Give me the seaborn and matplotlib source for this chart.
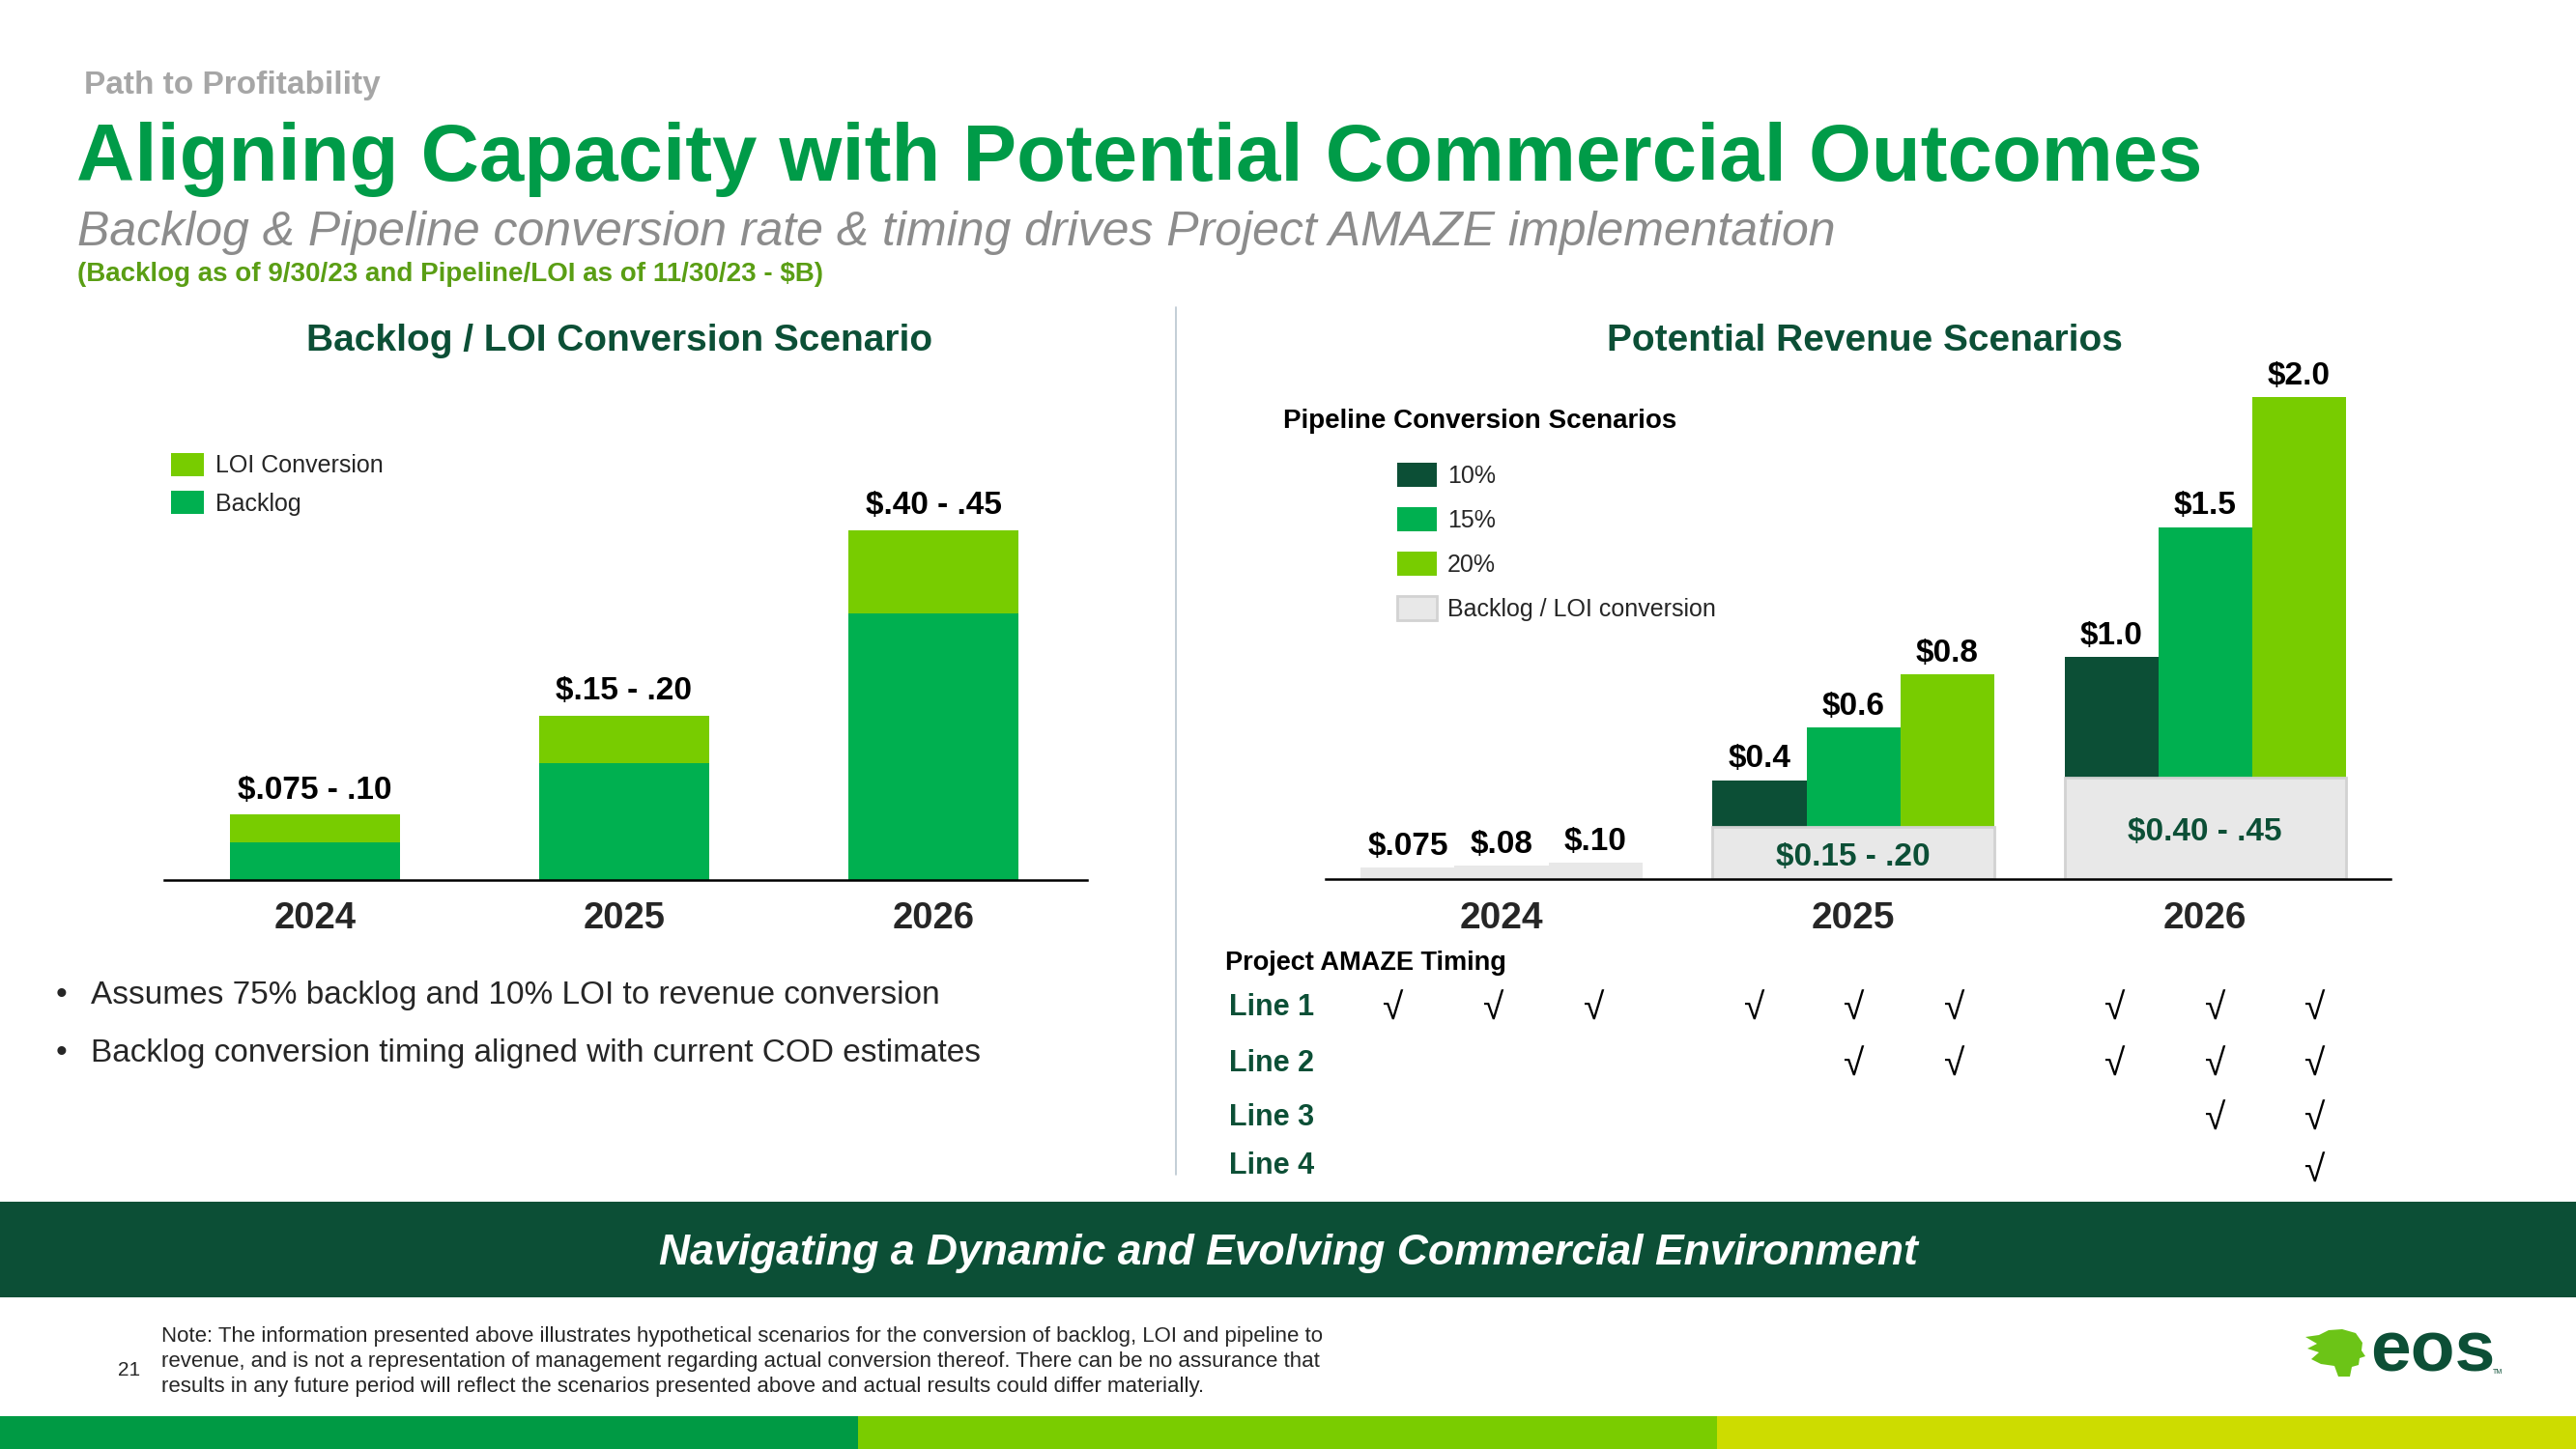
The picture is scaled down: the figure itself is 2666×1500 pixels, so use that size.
import numpy as np
import pandas as pd
import matplotlib
matplotlib.use("Agg")
import matplotlib.pyplot as plt
import seaborn as sns
from matplotlib.patches import Rectangle, Polygon
from matplotlib.lines import Line2D
import matplotlib.transforms as mtransforms

# ---------------- data ----------------
years = ["2024", "2025", "2026"]
backlog = [0.049, 0.150, 0.343]
loi_conv = [0.035, 0.062, 0.107]
left_labels = ["$.075 - .10", "$.15 - .20", "$.40 - .45"]

scenarios = ["10%", "15%", "20%"]
base_2024 = [0.048, 0.056, 0.068]
base_2024_labels = ["$.075", "$.08", "$.10"]
base_years = ["2025", "2026"]
base_values = [0.217, 0.42]
base_labels = ["$0.15 - .20", "$0.40 - .45"]
rev_10 = [0.41, 0.92]
rev_15 = [0.63, 1.46]
rev_20 = [0.85, 2.0]
rev_labels_10 = ["$0.4", "$1.0"]
rev_labels_15 = ["$0.6", "$1.5"]
rev_labels_20 = ["$0.8", "$2.0"]

timing_rows = ["Line 1", "Line 2", "Line 3", "Line 4"]
line1 = [1, 1, 1, 1, 1, 1, 1, 1, 1]
line2 = [0, 0, 0, 0, 1, 1, 1, 1, 1]
line3 = [0, 0, 0, 0, 0, 0, 0, 1, 1]
line4 = [0, 0, 0, 0, 0, 0, 0, 0, 1]
timing = [line1, line2, line3, line4]

bullets = ["Assumes 75% backlog and 10% LOI to revenue conversion",
           "Backlog conversion timing aligned with current COD estimates"]
note_lines = [
    "Note: The information presented above illustrates hypothetical scenarios for the conversion of backlog, LOI and pipeline to",
    "revenue, and is not a representation of management regarding actual conversion thereof. There can be no assurance that",
    "results in any future period will reflect the scenarios presented above and actual results could differ materially.",
]

# ---------------- style ----------------
DARK = "#0c4f36"
GREEN = "#00b050"
LIME = "#78cc00"
GRAY = "#e8e8e8"
GRAY_EDGE = "#d2d2d2"
TITLE_GREEN = "#009b48"

sns.set_style("white")
plt.rcParams["font.family"] = ["Liberation Sans", "DejaVu Sans"]

W, H = 2666, 1500
fig = plt.figure(figsize=(W / 100, H / 100), dpi=100)


def fx(x):
    return x / W


def fy(y):
    return 1 - y / H


# ---------------- header ----------------
fig.text(fx(87), fy(97), "Path to Profitability", fontsize=24, fontweight="bold",
         color="#a6a6a6", va="baseline")
fig.text(fx(79), fy(187), "Aligning Capacity with Potential Commercial Outcomes",
         fontsize=60, fontweight="bold", color=TITLE_GREEN, va="baseline")
fig.text(fx(80), fy(254), "Backlog & Pipeline conversion rate & timing drives Project AMAZE implementation",
         fontsize=36, style="italic", color="#8c8c8c", va="baseline")
fig.text(fx(80), fy(291), "(Backlog as of 9/30/23 and Pipeline/LOI as of 11/30/23 - $B)",
         fontsize=20, fontweight="bold", color="#5a9e14", va="baseline")

# divider
fig.add_artist(Line2D([fx(1217), fx(1217)], [fy(318), fy(1216)], color="#b9c6cf", lw=1.2))

# ---------------- left chart ----------------
fig.text(fx(641), fy(353), "Backlog / LOI Conversion Scenario", fontsize=28,
         fontweight="bold", color=DARK, ha="center", va="center")

axL = fig.add_axes([fx(170), fy(911), (1125 - 170) / W, (911 - 300) / H])
dfL = pd.DataFrame({"year": years, "Backlog": backlog, "LOI": loi_conv})
dfL["total"] = dfL["Backlog"] + dfL["LOI"]
sns.barplot(data=dfL, x="year", y="total", order=years, color=LIME, saturation=1,
            width=0.55, linewidth=0, errorbar=None, ax=axL)
sns.barplot(data=dfL, x="year", y="Backlog", order=years, color=GREEN, saturation=1,
            width=0.55, linewidth=0, errorbar=None, ax=axL)
axL.bar_label(axL.containers[0], labels=left_labels, padding=7, fontsize=24,
              fontweight="bold", color="black")
axL.set_xlim(-0.4875, 2.497)
axL.set_ylim(0, (911 - 300) / 804)
axL.set_xlabel("")
axL.set_ylabel("")
axL.set_yticks([])
for s in ["top", "left", "right"]:
    axL.spines[s].set_visible(False)
axL.spines["bottom"].set_linewidth(1.8)
axL.spines["bottom"].set_color("black")
axL.tick_params(axis="x", length=0, labelsize=27.5, pad=15.5)
for t in axL.get_xticklabels():
    t.set_fontweight("bold")
axL.patch.set_alpha(0)

axL.legend([axL.containers[0].patches[0], axL.containers[1].patches[0]],
           ["LOI Conversion", "Backlog"], loc="upper left",
           bbox_to_anchor=(fx(177), fy(469)), bbox_transform=fig.transFigure,
           frameon=False, borderpad=0, borderaxespad=0, handlelength=1.36,
           handleheight=1.08, labelspacing=0.56, handletextpad=0.48, fontsize=18)

# bullets
for i, b in enumerate(bullets):
    yy = [1031, 1091][i]
    fig.text(fx(58), fy(yy), "\u2022", fontsize=24, color="#262626", va="center")
    fig.text(fx(94), fy(yy), b, fontsize=24, color="#262626", va="center")

# ---------------- right chart ----------------
fig.text(fx(1930), fy(353), "Potential Revenue Scenarios", fontsize=28,
         fontweight="bold", color=DARK, ha="center", va="center")

axR = fig.add_axes([fx(1372), fy(910), (2474 - 1372) / W, (910 - 330) / H])
rows = []
for j, yv in enumerate(base_years):
    rows += [(yv, "10%", rev_10[j]), (yv, "15%", rev_15[j]), (yv, "20%", rev_20[j])]
dfR = pd.DataFrame(rows, columns=["year", "scenario", "value"])
sns.barplot(data=dfR, x="year", y="value", hue="scenario", order=years,
            hue_order=scenarios, palette=[DARK, GREEN, LIME], saturation=1,
            width=0.8, linewidth=0, legend=False, errorbar=None, ax=axR)
df24 = pd.DataFrame({"year": ["2024"] * 3, "scenario": scenarios, "value": base_2024})
sns.barplot(data=df24, x="year", y="value", hue="scenario", order=years,
            hue_order=scenarios, palette=[GRAY, GRAY, GRAY], saturation=1,
            width=0.8, linewidth=0, legend=False, errorbar=None, ax=axR)
dfB = pd.DataFrame({"year": base_years, "value": base_values})
sns.barplot(data=dfB, x="year", y="value", order=years, color=GRAY, saturation=1,
            width=0.8, edgecolor=GRAY_EDGE, linewidth=2, errorbar=None, ax=axR)

conts = axR.containers
c10, c15, c20, g10, g15, g20, cbase = conts[:7]
for c, labs in zip([c10, c15, c20], [rev_labels_10, rev_labels_15, rev_labels_20]):
    axR.bar_label(c, labels=labs, padding=4.5, fontsize=24, fontweight="bold", color="black")
for c, lab in zip([g10, g15, g20], base_2024_labels):
    axR.bar_label(c, labels=[lab], padding=4.5, fontsize=24, fontweight="bold", color="black")
base_txt = axR.bar_label(cbase, labels=base_labels, label_type="center", fontsize=24,
                         fontweight="bold", color=DARK)
for t in base_txt:
    t.xyann = (0, -3)

axR.set_xlim(-0.5, 2.527)
axR.set_ylim(0, (910 - 330) / 249.5)
axR.set_xlabel("")
axR.set_ylabel("")
axR.set_yticks([])
for s in ["top", "left", "right"]:
    axR.spines[s].set_visible(False)
axR.spines["bottom"].set_linewidth(1.8)
axR.spines["bottom"].set_color("black")
axR.tick_params(axis="x", length=0, labelsize=28, pad=16.5)
for t in axR.get_xticklabels():
    t.set_fontweight("bold")
axR.patch.set_alpha(0)

fig.text(fx(1328), fy(436), "Pipeline Conversion Scenarios", fontsize=20,
         fontweight="bold", color="black", va="center")
axR.legend([c10.patches[0], c15.patches[0], c20.patches[0], cbase.patches[0]],
           scenarios + ["Backlog / LOI conversion"], loc="upper left",
           bbox_to_anchor=(fx(1446), fy(479)), bbox_transform=fig.transFigure,
           frameon=False, borderpad=0, borderaxespad=0, handlelength=1.64,
           handleheight=1.16, labelspacing=0.80, handletextpad=0.44, fontsize=18)

# timing grid (check columns sit in a table slightly wider than the bar groups)
check_x = []
for yi in range(len(years)):
    for hi in range(len(scenarios)):
        check_x.append(yi * 1.025 - 0.025 + (hi - 1) * 0.285)
blend = mtransforms.blended_transform_factory(axR.transData, fig.transFigure)
fig.text(fx(1268), fy(997), "Project AMAZE Timing", fontsize=19.5, fontweight="bold",
         color="black", va="center")
row_y = [1043, 1101, 1157, 1207]
for name, flags, yy in zip(timing_rows, timing, row_y):
    fig.text(fx(1272), fy(yy), name, fontsize=22, fontweight="bold", color=DARK, va="center")
    for cx, f in zip(check_x, flags):
        if f:
            axR.text(cx, fy(yy + (3 if name != "Line 4" else 7)), "\u221a", transform=blend,
                     fontsize=28, ha="center", va="center", color="black")

# ---------------- bottom band ----------------
fig.add_artist(Rectangle((0, fy(1343)), 1, (1343 - 1244) / H, color=DARK, lw=0))
fig.text(fx(1333), fy(1298), "Navigating a Dynamic and Evolving Commercial Environment",
         fontsize=32, fontweight="bold", style="italic", color="white",
         ha="center", va="center")

for i, ln in enumerate(note_lines):
    fig.text(fx(167), fy([1384, 1410, 1436][i]), ln, fontsize=16, color="#262626", va="center")
fig.text(fx(122), fy(1418), "21", fontsize=15, color="#262626", va="center")

# logo
leaf = [(2386, 1384), (2400, 1382), (2410, 1377), (2424, 1376), (2438, 1380), (2445, 1390),
        (2444, 1398), (2448, 1404), (2442, 1406), (2441, 1413), (2434, 1415), (2432, 1425),
        (2420, 1425), (2416, 1414), (2402, 1412), (2392, 1407), (2400, 1400), (2388, 1396),
        (2398, 1391)]
fig.add_artist(Polygon([(fx(a), fy(b)) for a, b in leaf], closed=True,
                       facecolor="#6cc417", edgecolor="none", transform=fig.transFigure))
fig.text(fx(2453), fy(1420), "eos", fontsize=54, fontweight="bold", color=DARK, va="baseline")
fig.text(fx(2580), fy(1422), "TM", fontsize=5, color=DARK, va="baseline")

# stripes
for x0, x1, col in [(0, 888, "#009a44"), (888, 1777, "#7acc00"), (1777, 2666, "#cddc00")]:
    fig.add_artist(Rectangle((fx(x0), 0), (x1 - x0) / W, (1500 - 1466) / H, color=col, lw=0))

fig.savefig("out.png", dpi=100)
